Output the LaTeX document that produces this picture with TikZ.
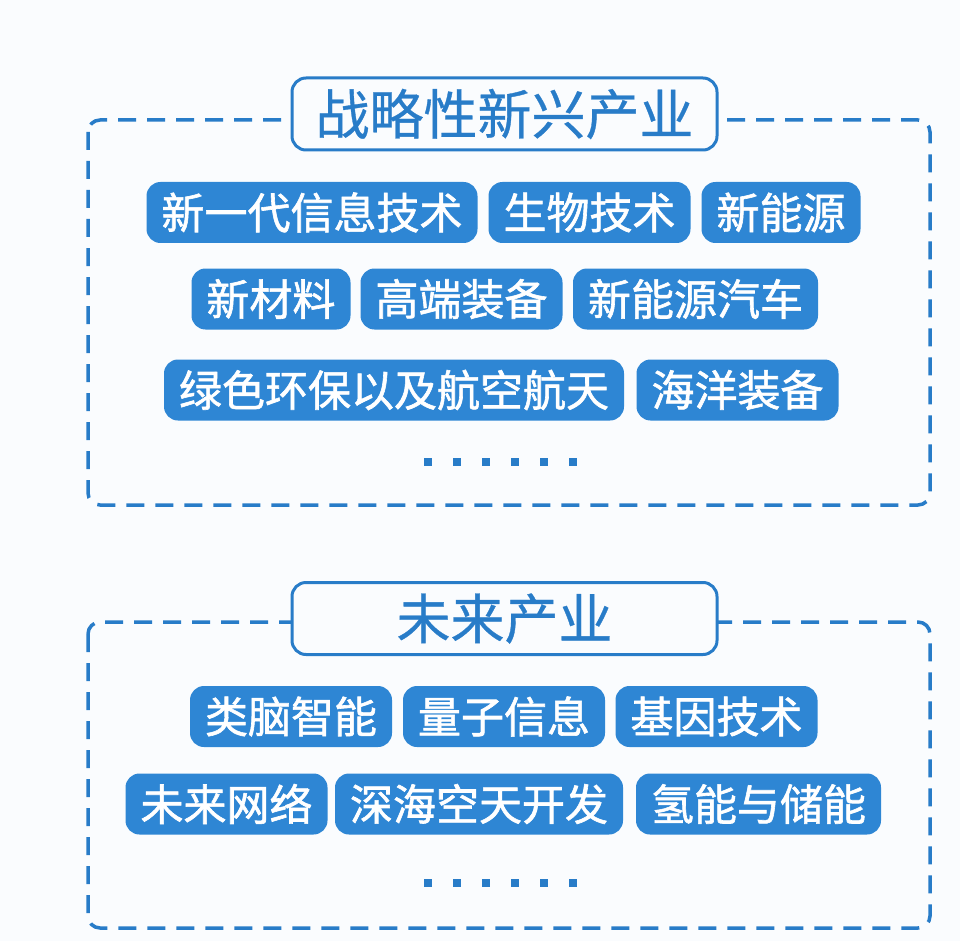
\documentclass[tikz,border=0pt]{standalone}
\usepackage{fontspec}
\newfontfamily\cjk[FakeBold=0.6]{Noto Sans CJK SC}
\newfontfamily\cjkb[FakeBold=1.4]{Noto Sans CJK SC}
\definecolor{pillblue}{RGB}{46,134,212}
\definecolor{lineblue}{RGB}{40,124,200}
\definecolor{bgcol}{RGB}{250,252,254}
\begin{document}
\begin{tikzpicture}[x=1pt,y=-1pt,
 pill/.style={fill=pillblue,text=white,rounded corners=14pt,minimum height=61pt,inner xsep=15pt,inner ysep=0pt,font=\cjkb\fontsize{43}{43}\selectfont},
 ttl/.style={draw=lineblue,line width=3pt,fill=bgcol,text=lineblue,rounded corners=14pt,minimum width=425pt,minimum height=72pt,inner sep=0pt,font=\cjk\fontsize{54}{54}\selectfont},
 frame/.style={draw=lineblue,line width=3.5pt,dash pattern=on 18pt off 11pt,rounded corners=12pt},
 dotsq/.style={fill=lineblue,minimum size=7.5pt,inner sep=0pt}]
\fill[bgcol] (0,0) rectangle (960,941);
\useasboundingbox (0,0) rectangle (960,941);
% top frame
\draw[frame] (88,120) rectangle (930,505);
\node[ttl] (t1) at (504.5,114) {战略性新兴产业};
\node[pill] (p1) at (312,212.5) {新一代信息技术};
\node[pill] (p2) at (589.5,212.5) {生物技术};
\node[pill] (p3) at (781,212.5) {新能源};
\node[pill] (p4) at (271,299) {新材料};
\node[pill] (p5) at (461.5,299) {高端装备};
\node[pill] (p6) at (695.5,299) {新能源汽车};
\node[pill] (p7) at (394,390) {绿色环保以及航空航天};
\node[pill] (p8) at (737.5,390) {海洋装备};
\foreach \i/\x in {1/428,2/457,3/486,4/515,5/544,6/573}
  \node[dotsq] (da\i) at (\x,462) {};
% bottom frame
\draw[frame] (88,622) rectangle (930,928);
\node[ttl] (t2) at (504.5,618.5) {未来产业};
\node[pill] (q1) at (291,716.5) {类脑智能};
\node[pill] (q2) at (504,716.5) {量子信息};
\node[pill] (q3) at (716.5,716.5) {基因技术};
\node[pill] (q4) at (226.5,804) {未来网络};
\node[pill] (q5) at (479,804) {深海空天开发};
\node[pill] (q6) at (758.5,804) {氢能与储能};
\foreach \i/\x in {1/428,2/457,3/486,4/515,5/544,6/573}
  \node[dotsq] (db\i) at (\x,883) {};
\end{tikzpicture}
\end{document}
